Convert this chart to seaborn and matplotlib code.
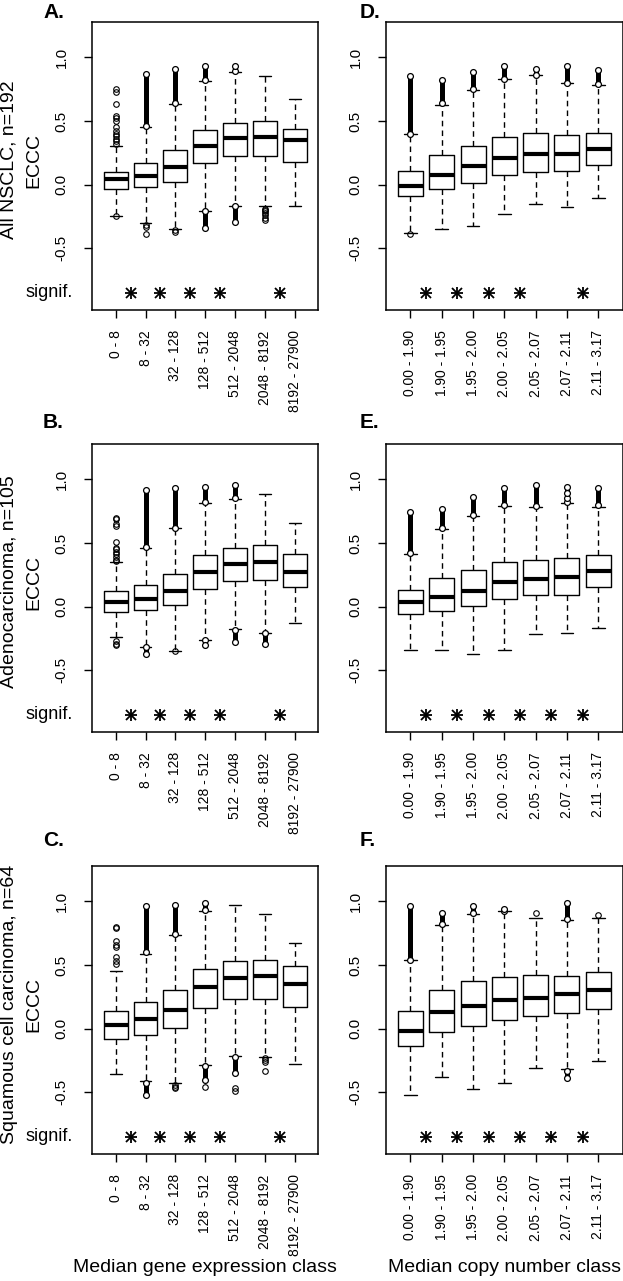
import numpy as np
import pandas as pd
import matplotlib
matplotlib.use("Agg")
import matplotlib.pyplot as plt
import matplotlib.transforms as mtransforms
import seaborn as sns

# ---------------- data ----------------
expr_classes = ["0 - 8", "8 - 32", "32 - 128", "128 - 512", "512 - 2048",
                "2048 - 8192", "8192 - 27900"]
cn_classes = ["0.00 - 1.90", "1.90 - 1.95", "1.95 - 2.00", "2.00 - 2.05",
              "2.05 - 2.07", "2.07 - 2.11", "2.11 - 3.17"]

ytick_vals = [-0.5, 0.0, 0.5, 1.0]
ytick_labels = ["-0.5", "0.0", "0.5", "1.0"]

row_titles = ["All NSCLC, n=192", "Adenocarcinoma, n=105",
              "Squamous cell carcinoma, n=64"]
panel_letters = ["A.", "B.", "C.", "D.", "E.", "F."]

# box stats per class: (lower whisker, Q1, median, Q3, upper whisker)
A_stats = [(-0.246, -0.037, 0.042, 0.102, 0.304), (-0.298, -0.021, 0.068, 0.173, 0.455),
           (-0.348, 0.021, 0.136, 0.270, 0.630), (-0.207, 0.168, 0.304, 0.427, 0.817),
           (-0.168, 0.228, 0.364, 0.487, 0.882), (-0.170, 0.228, 0.374, 0.500, 0.853),
           (-0.170, 0.178, 0.353, 0.437, 0.670)]
B_stats = [(-0.239, -0.039, 0.037, 0.121, 0.349), (-0.320, -0.029, 0.063, 0.171, 0.462),
           (-0.346, 0.013, 0.123, 0.257, 0.619), (-0.260, 0.142, 0.276, 0.409, 0.811),
           (-0.176, 0.200, 0.336, 0.459, 0.848), (-0.207, 0.207, 0.349, 0.486, 0.885),
           (-0.126, 0.155, 0.273, 0.415, 0.661)]
C_stats = [(-0.353, -0.084, 0.026, 0.136, 0.450), (-0.411, -0.047, 0.079, 0.207, 0.589),
           (-0.427, 0.008, 0.149, 0.301, 0.733), (-0.288, 0.162, 0.325, 0.471, 0.924),
           (-0.215, 0.233, 0.400, 0.529, 0.969), (-0.223, 0.233, 0.411, 0.537, 0.898),
           (-0.275, 0.170, 0.348, 0.495, 0.670)]
D_stats = [(-0.377, -0.089, -0.010, 0.105, 0.398), (-0.348, -0.037, 0.079, 0.230, 0.628),
           (-0.327, 0.010, 0.144, 0.304, 0.741), (-0.228, 0.073, 0.209, 0.377, 0.827),
           (-0.149, 0.102, 0.241, 0.403, 0.859), (-0.175, 0.110, 0.243, 0.387, 0.798),
           (-0.105, 0.154, 0.283, 0.408, 0.783)]
E_stats = [(-0.339, -0.058, 0.034, 0.131, 0.412), (-0.344, -0.037, 0.073, 0.223, 0.614),
           (-0.373, 0.003, 0.123, 0.286, 0.709), (-0.339, 0.063, 0.194, 0.354, 0.790),
           (-0.215, 0.089, 0.215, 0.367, 0.780), (-0.207, 0.094, 0.234, 0.381, 0.811),
           (-0.168, 0.152, 0.281, 0.409, 0.785)]
F_stats = [(-0.524, -0.136, -0.021, 0.136, 0.537), (-0.380, -0.029, 0.131, 0.306, 0.812),
           (-0.476, 0.021, 0.178, 0.374, 0.903), (-0.424, 0.068, 0.228, 0.408, 0.921),
           (-0.309, 0.102, 0.243, 0.419, 0.869), (-0.314, 0.126, 0.270, 0.414, 0.851),
           (-0.257, 0.154, 0.301, 0.445, 0.869)]

# individually visible outliers per class
A_fliers = [[0.32, 0.34, 0.36, 0.38, 0.40, 0.42, 0.45, 0.50, 0.52, 0.54, 0.63, 0.73, 0.75, -0.25],
            [-0.32, -0.33, -0.385], [-0.355, -0.37], [], [],
            [-0.19, -0.20, -0.21, -0.22, -0.24, -0.26, -0.275], []]
B_fliers = [[0.36, 0.37, 0.39, 0.41, 0.43, 0.45, 0.46, 0.51, 0.635, 0.65, 0.69, 0.70, -0.27, -0.29, -0.30],
            [], [-0.35], [], [], [], []]
C_fliers = [[0.51, 0.53, 0.56, 0.64, 0.655, 0.69, 0.79, 0.80], [], [-0.44, -0.455, -0.47],
            [-0.455], [-0.47, -0.49], [-0.23, -0.245, -0.26, -0.33], []]
D_fliers = [[-0.385], [], [], [], [], [], []]
E_fliers = [[], [], [], [], [], [], []]
F_fliers = [[], [], [], [], [0.91], [], [0.895]]

# densely packed outlier runs per class: (from, to)
A_bands = [[], [(0.46, 0.87)], [(0.64, 0.91)], [(0.82, 0.93), (-0.21, -0.34)],
           [(0.89, 0.93), (-0.17, -0.29)], [], []]
B_bands = [[], [(0.47, 0.92), (-0.32, -0.375)], [(0.62, 0.935)], [(0.82, 0.94), (-0.26, -0.305)],
           [(0.85, 0.955), (-0.18, -0.28)], [(-0.21, -0.29)], []]
C_bands = [[], [(0.60, 0.96), (-0.43, -0.52)], [(0.74, 0.975)], [(0.93, 0.99), (-0.29, -0.40)],
           [(-0.22, -0.35)], [], []]
D_bands = [[(0.40, 0.85)], [(0.64, 0.82)], [(0.75, 0.885)], [(0.83, 0.93)],
           [(0.86, 0.91)], [(0.80, 0.93)], [(0.79, 0.90)]]
E_bands = [[(0.42, 0.74)], [(0.62, 0.77)], [(0.72, 0.86)], [(0.80, 0.93)],
           [(0.79, 0.955)], [(0.82, 0.85), (0.89, 0.94)], [(0.80, 0.93)]]
F_bands = [[(0.54, 0.96)], [(0.82, 0.905)], [(0.91, 0.965)], [(0.925, 0.94)],
           [], [(0.86, 0.985), (-0.33, -0.39)], []]

# significance between neighbouring classes (1 = asterisk)
A_signif = [1, 1, 1, 1, 0, 1]
B_signif = [1, 1, 1, 1, 0, 1]
C_signif = [1, 1, 1, 1, 0, 1]
D_signif = [1, 1, 1, 1, 0, 1]
E_signif = [1, 1, 1, 1, 1, 1]
F_signif = [1, 1, 1, 1, 1, 1]

# ---------------- style ----------------
sns.set_theme(style="ticks")
plt.rcParams["font.family"] = ["Liberation Sans", "DejaVu Sans"]
plt.rcParams["axes.unicode_minus"] = False
plt.rcParams["text.color"] = "black"
plt.rcParams["axes.labelcolor"] = "black"
plt.rcParams["xtick.color"] = "black"
plt.rcParams["ytick.color"] = "black"
plt.rcParams["axes.edgecolor"] = "black"

W, H = 623, 1281
fig = plt.figure(figsize=(W / 100, H / 100), dpi=100)


def px_axes(x0, y0, x1, y1):
    return fig.add_axes([x0 / W, 1 - y1 / H, (x1 - x0) / W, (y1 - y0) / H])


def draw_panel(ax, stats, fliers, bands, labels, signif, left):
    rows = []
    for lab, st in zip(labels, stats):
        for v in st:
            rows.append((lab, v))
    df = pd.DataFrame(rows, columns=["cls", "eccc"])
    sns.boxplot(data=df, x="cls", y="eccc", order=labels, ax=ax,
                whis=(0, 100), width=0.8, fill=False, color="black",
                linecolor="black", linewidth=1.0, showfliers=False,
                medianprops=dict(linewidth=3.0, color="black", solid_capstyle="butt"),
                whiskerprops=dict(linestyle=(0, (4, 3)), linewidth=1.0, color="black"),
                capprops=dict(linewidth=1.0, color="black"),
                boxprops=dict(linewidth=1.0, color="black"))
    for i, (fl, bd) in enumerate(zip(fliers, bands)):
        for lo, hi in bd:
            ax.vlines(i, min(lo, hi), max(lo, hi), color="black", lw=3.6, zorder=3)
            ax.plot([i, i], [lo, hi], "o", mfc="white", mec="black", ms=4.2, mew=0.9,
                    ls="none", zorder=4)
        if fl:
            ax.plot([i] * len(fl), fl, "o", mfc="none", mec="black", ms=4, mew=0.8,
                    ls="none", zorder=4)
    for k, s in enumerate(signif):
        if s:
            ax.plot(k + 0.5, -0.85, marker="+", ms=9, mew=1.3, color="black", ls="none")
            ax.plot(k + 0.5, -0.85, marker="x", ms=6.5, mew=1.3, color="black", ls="none")
    ax.set_xlim(-0.78, 6.78)
    ax.set_ylim(-0.985, 1.278)
    ax.set_xlabel("")
    ax.set_ylabel("")
    ax.set_yticks(ytick_vals)
    ax.set_yticklabels(ytick_labels, rotation=90, va="center", fontsize=11)
    ax.set_xticks(range(len(labels)))
    ax.set_xticklabels(labels, rotation=90, fontsize=10)
    ax.tick_params(axis="y", length=6, width=1, pad=11, colors="black")
    ax.tick_params(axis="x", length=6, width=1, pad=8.5, colors="black")
    for sp in ax.spines.values():
        sp.set_visible(True)
        sp.set_linewidth(1.1)
        sp.set_color("black")
    if left:
        tr = mtransforms.blended_transform_factory(ax.transAxes, ax.transData)
        ax.text(-0.085, -0.85, "signif.", transform=tr, ha="right", va="center",
                fontsize=13, color="black")


row_y = [(22, 310), (444, 732), (866, 1154)]
left_x = (92.3, 318.3)
right_x = (386, 622.7)
letter_base = [18, 428, 846]

left_sets = [(A_stats, A_fliers, A_bands, A_signif),
             (B_stats, B_fliers, B_bands, B_signif),
             (C_stats, C_fliers, C_bands, C_signif)]
right_sets = [(D_stats, D_fliers, D_bands, D_signif),
              (E_stats, E_fliers, E_bands, E_signif),
              (F_stats, F_fliers, F_bands, F_signif)]

for r in range(3):
    y0, y1 = row_y[r]
    axl = px_axes(left_x[0], y0, left_x[1], y1)
    st, fl, bd, sg = left_sets[r]
    draw_panel(axl, st, fl, bd, expr_classes, sg, True)
    axr = px_axes(right_x[0], y0, right_x[1], y1)
    st, fl, bd, sg = right_sets[r]
    draw_panel(axr, st, fl, bd, cn_classes, sg, False)
    # row title (two lines of the y label)
    yc = 1 - ((y0 + y1) / 2 - 6) / H
    fig.text(9.5 / W, yc, row_titles[r], rotation=90, ha="center", va="center",
             fontsize=14, color="black")
    fig.text(34 / W, yc, "ECCC", rotation=90, ha="center", va="center",
             fontsize=14, color="black")
    fig.text(43 / W, 1 - letter_base[r] / H, panel_letters[r], fontsize=15,
             fontweight="bold", ha="left", va="baseline", color="black")
    fig.text(360 / W, 1 - letter_base[r] / H, panel_letters[r + 3], fontsize=15,
             fontweight="bold", ha="left", va="baseline", color="black")

fig.text((left_x[0] + left_x[1]) / 2 / W, 1 - 1268 / H, "Median gene expression class",
         ha="center", va="center", fontsize=14, color="black")
fig.text((right_x[0] + right_x[1]) / 2 / W, 1 - 1268 / H, "Median copy number class",
         ha="center", va="center", fontsize=14, color="black")

fig.savefig("out.png", dpi=100, facecolor="white")
